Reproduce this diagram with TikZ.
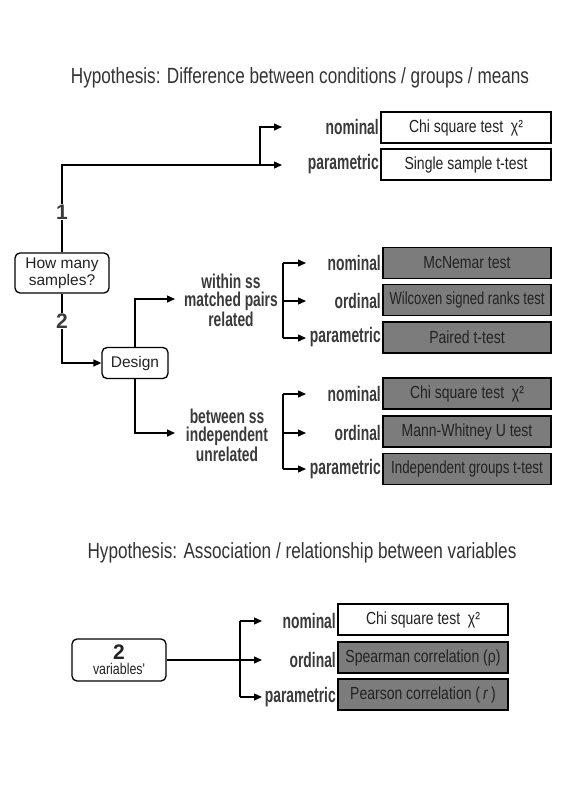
\documentclass[tikz,border=0pt]{standalone}
\usepackage{fontspec}
\usetikzlibrary{arrows.meta}
\setmainfont{Liberation Sans}
\newfontfamily\boxfont[FakeStretch=0.80]{Liberation Sans}
\newfontfamily\labfont[FakeStretch=0.66]{Liberation Sans}
\newfontfamily\grpfont[FakeStretch=0.69]{Liberation Sans}
\newfontfamily\titlefont[FakeStretch=0.78]{Liberation Sans}
\definecolor{boxgray}{RGB}{124,124,124}
\definecolor{labgray}{RGB}{58,58,58}
\definecolor{txtdark}{RGB}{34,34,34}
\tikzset{
  line/.style={line width=1.4pt, draw=black},
  arr/.style={line, -{Triangle[length=8pt,width=7pt]}},
  testbox/.style={draw=black, line width=1.3pt, fill=white, minimum width=170pt, minimum height=31pt, inner sep=0pt,
    font=\boxfont\fontsize{17.5}{19}\selectfont, text=txtdark},
  graybox/.style={testbox, fill=boxgray, minimum width=168pt},
  lab/.style={anchor=east, inner sep=0pt, text=labgray, font=\labfont\bfseries\fontsize{21}{21}\selectfont},
  grouplab/.style={align=center, inner sep=0pt, text=labgray, font=\grpfont\bfseries\fontsize{20}{18.6}\selectfont},
  roundbox/.style={draw=black, line width=1.3pt, rounded corners=5pt, fill=white, inner sep=0pt, align=center,
    font=\fontsize{15.5}{17}\selectfont, text=txtdark},
  numlab/.style={fill=white, inner sep=1pt, text=labgray, font=\bfseries\fontsize{21}{21}\selectfont},
  title/.style={inner sep=0pt, text=black!80, font=\titlefont\fontsize{22}{24}\selectfont}
}
\begin{document}
\begin{tikzpicture}[x=1pt,y=-1pt]
\useasboundingbox (0,0) rectangle (567,812);
\fill[white] (0,0) rectangle (567,812);

% ---------- Title 1
\node[title] (t1) at (300,78) {Hypothesis: Difference between conditions / groups / means};

% ---------- One sample branch
\node[testbox] (chi1) at (466,127.5) {Chi square test \ χ²};
\node[testbox] (ss) at (466,164.5) {Single sample t-test};
\node[lab] (n1) at (379,127) {nominal};
\node[lab] (p1) at (379,164) {parametric};

\node[roundbox, minimum width=94pt, minimum height=40pt] (hm) at (62,273) {How many\\samples?};
\coordinate (tipA) at (282,127);
\coordinate (tipB) at (282,165);
\coordinate (jA) at (260,165);
\draw[arr] (hm.north) |- (tipB);
\draw[arr] (jA) |- (tipA);
\node[numlab] (one) at (62,212) {1};

% ---------- Design
\node[roundbox, minimum width=66pt, minimum height=31pt] (ds) at (135,363) {Design};
\draw[arr] (hm.south) |- (ds.west);
\node[numlab] (two) at (62,321) {2};

\coordinate (tipW) at (175,299);
\coordinate (tipBt) at (175,433);
\draw[arr] (ds.north) |- (tipW);
\draw[arr] (ds.south) |- (tipBt);
\node[grouplab] (wl) at (231,300) {within ss\\matched pairs\\related};
\node[grouplab] (bl) at (227,435) {between ss\\independent\\unrelated};

% ---------- Within tests
\node[graybox] (mc) at (467,263) {McNemar test};
\node[graybox] (wi) at (467,300) {\scalebox{0.93}[1]{Wilcoxen signed ranks test}};
\node[graybox] (pt) at (467,337.5) {Paired t-test};
\node[lab] (n2) at (381,263) {nominal};
\node[lab] (o2) at (381,301) {ordinal};
\node[lab] (p2) at (381,337) {parametric};
\coordinate (w1) at (283,263);
\coordinate (w2) at (283,301);
\coordinate (w3) at (283,338);
\coordinate (wt1) at (306,263);
\coordinate (wt2) at (306,301);
\coordinate (wt3) at (306,338);
\draw[line] (w1) -- (w3);
\draw[arr] (w1) -- (wt1);
\draw[arr] (w2) -- (wt2);
\draw[arr] (w3) -- (wt3);

% ---------- Between tests
\node[graybox] (chi2) at (467,393.5) {Chi square test \ χ²};
\node[graybox] (mw) at (467,431.5) {Mann-Whitney U test};
\node[graybox] (ig) at (467,469) {\scalebox{0.95}[1]{Independent groups t-test}};
\node[lab] (n3) at (381,394) {nominal};
\node[lab] (o3) at (381,433) {ordinal};
\node[lab] (p3) at (381,469) {parametric};
\coordinate (b1) at (283,394);
\coordinate (b2) at (283,433);
\coordinate (b3) at (283,469);
\coordinate (bt1) at (306,394);
\coordinate (bt2) at (306,433);
\coordinate (bt3) at (306,469);
\draw[line] (b1) -- (b3);
\draw[arr] (b1) -- (bt1);
\draw[arr] (b2) -- (bt2);
\draw[arr] (b3) -- (bt3);

% ---------- Title 2
\node[title] (t2) at (302,553) {Hypothesis: Association / relationship between variables};

% ---------- Association
\node[roundbox, minimum width=94pt, minimum height=42pt, font=\fontsize{15.5}{15}\selectfont] (tv) at (119,660)
  {{\bfseries\fontsize{21}{19}\selectfont 2}\\{\boxfont variables'}};
\node[testbox] (chi3) at (423,619.5) {Chi square test \ χ²};
\node[graybox, minimum width=170pt] (sp) at (423,657.5) {Spearman correlation (ρ)};
\node[graybox, minimum width=170pt] (pe) at (423,694.5) {Pearson correlation (\,\textit{r}\,)};
\node[lab] (n4) at (336,621) {nominal};
\node[lab] (o4) at (336,660) {ordinal};
\node[lab] (p4) at (336,697) {parametric};
\coordinate (a1) at (240,621);
\coordinate (a3) at (240,697);
\coordinate (at1) at (262,621);
\coordinate (at2) at (262,660);
\coordinate (at3) at (262,697);
\draw[line] (a1) -- (a3);
\draw[arr] (tv.east) -- (at2);
\draw[arr] (a1) -- (at1);
\draw[arr] (a3) -- (at3);
\end{tikzpicture}
\end{document}
